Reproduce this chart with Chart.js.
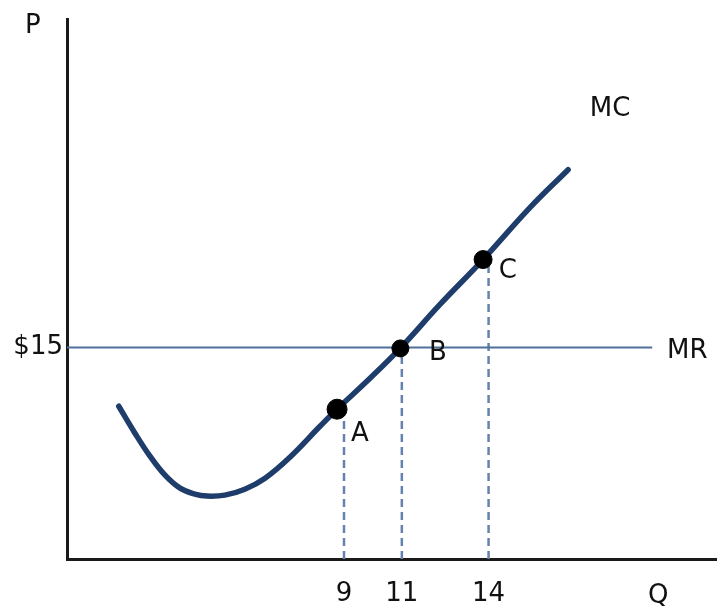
<!DOCTYPE html>
<html>
<head>
<meta charset="utf-8">
<script src="https://cdn.jsdelivr.net/npm/chart.js@4.4.1/dist/chart.umd.min.js"></script>
<style>
  html,body{margin:0;padding:0;background:#fff;}
  #wrap{width:717px;height:611px;position:relative;}
</style>
</head>
<body>
<div id="wrap"><canvas id="c" width="717" height="611"></canvas></div>
<script>
// ---- data ----
const mcQ = [1.21,1.77,2.29,2.81,3.33,3.84,4.26,4.88,5.57,6.27,7.13,8.17,8.76,9.9,10.94,12.32,13.81,15.43,16.75];
const mcP = [10.83,8.92,7.29,5.94,5.02,4.60,4.46,4.53,4.95,5.73,7.22,9.41,10.62,12.81,14.93,18.05,21.23,24.91,27.6];
const mrPrice = 15;
const mrQ = [-0.58, 19.66];
const pointNames = ['A','B','C'];
const pointQ = [8.76, 10.95, 13.81];
const pointP = [10.62, 14.93, 21.23];
const qTicks = [9, 11, 14];
const qTickLabels = ['9','11','14'];
const pTicks = [15];
const pTickLabels = ['$15'];

// ---- text annotations (data coordinates) ----
const notes = [
  {t:'P',  x:-1.76, y:37.8},
  {t:'Q',  x:19.87, y:-2.62},
  {t:'MC', x:18.2,  y:31.9},
  {t:'MR', x:20.87, y:14.72},
  {t:'A',  x:9.55,  y:8.85},
  {t:'B',  x:12.25, y:14.58},
  {t:'C',  x:14.67, y:20.38}
];

const FONT = 'DejaVu Sans';
const FSIZE = 26;
const mcData = mcQ.map((q,i)=>({x:q,y:mcP[i]}));
const dots = pointQ.map((q,i)=>({x:q,y:pointP[i]}));
const dashSets = qTicks.map((q,i)=>({
  type:'line',
  data:[{x:q,y:0},{x:q,y:pointP[i]}],
  borderColor:'#6482ae', borderWidth:2.5, borderDash:[8,5],
  pointRadius:0, fill:false, order:5
}));

const textPlugin = {
  id:'notes',
  afterDraw(chart){
    const {ctx, scales:{x,y}} = chart;
    ctx.save();
    ctx.fillStyle = '#111';
    ctx.font = FSIZE + 'px "' + FONT + '"';
    ctx.textAlign = 'center';
    ctx.textBaseline = 'middle';
    notes.forEach(n=>ctx.fillText(n.t, x.getPixelForValue(n.x), y.getPixelForValue(n.y)));
    ctx.restore();
  }
};

new Chart(document.getElementById('c'), {
  type:'scatter',
  data:{
    datasets:[
      ...dashSets,
      {type:'line', data:[{x:mrQ[0],y:mrPrice},{x:mrQ[1],y:mrPrice}],
       borderColor:'#4f6f9c', borderWidth:2, pointRadius:0, fill:false, order:4},
      {type:'line', data:mcData, borderColor:'#1e3d6a', borderWidth:5.5,
       borderCapStyle:'round', borderJoinStyle:'round', tension:0.4,
       pointRadius:0, fill:false, order:3},
      {type:'scatter', data:dots, backgroundColor:'#000', borderColor:'#000',
       pointRadius:[10,8.5,9], order:1}
    ]
  },
  options:{
    responsive:false, animation:false,
    layout:{autoPadding:false, padding:{top:16,right:0,left:0,bottom:0}},
    plugins:{legend:{display:false}, tooltip:{enabled:false}},
    scales:{
      x:{
        type:'linear', min:-0.58, max:21.9,
        grid:{display:false, drawTicks:false},
        border:{display:true, color:'#1a1a1a', width:3},
        afterBuildTicks(s){ s.ticks = qTicks.map(v=>({value:v})); },
        afterFit(s){ s.height = 52; },
        ticks:{
          padding:20, color:'#111', font:{family:FONT, size:FSIZE},
          maxRotation:0, autoSkip:false,
          callback(v){ const i = qTicks.indexOf(v); return i>=0 ? qTickLabels[i] : ''; }
        }
      },
      y:{
        type:'linear', min:0, max:38.24,
        grid:{display:false, drawTicks:false},
        border:{display:true, color:'#1a1a1a', width:3},
        afterBuildTicks(s){ s.ticks = pTicks.map(v=>({value:v})); },
        afterFit(s){ s.width = 67; },
        ticks:{
          padding:4, color:'#111', font:{family:FONT, size:FSIZE},
          callback(v){ const i = pTicks.indexOf(v); return i>=0 ? pTickLabels[i] : ''; }
        }
      }
    }
  },
  plugins:[textPlugin]
});
</script>
</body>
</html>
